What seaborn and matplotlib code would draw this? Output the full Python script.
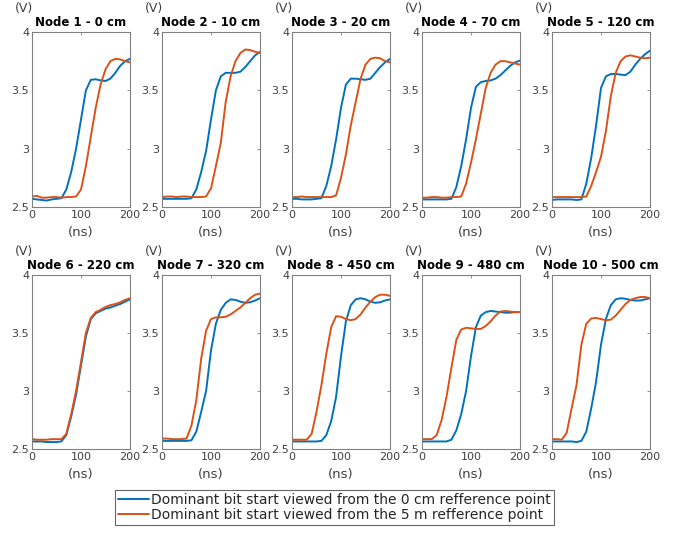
import numpy as np
import pandas as pd
import matplotlib
matplotlib.use("Agg")
import matplotlib.pyplot as plt
import seaborn as sns

# ---------------- data ----------------
time_ns = [0, 10, 20, 30, 40, 50, 60, 70, 80, 90, 100, 110, 120, 130, 140, 150, 160, 170, 180, 190, 200]

titles = ["Node 1 - 0 cm", "Node 2 - 10 cm", "Node 3 - 20 cm", "Node 4 - 70 cm", "Node 5 - 120 cm",
          "Node 6 - 220 cm", "Node 7 - 320 cm", "Node 8 - 450 cm", "Node 9 - 480 cm", "Node 10 - 500 cm"]

series_names = ["Dominant bit start viewed from the 0 cm refference point",
                "Dominant bit start viewed from the 5 m refference point"]

ref0_n1 = [2.57, 2.565, 2.56, 2.555, 2.565, 2.57, 2.575, 2.65, 2.8, 3.0, 3.25, 3.5, 3.59, 3.595, 3.585, 3.58, 3.6, 3.65, 3.71, 3.75, 3.77]
ref5_n1 = [2.59, 2.595, 2.58, 2.58, 2.585, 2.585, 2.58, 2.585, 2.585, 2.59, 2.65, 2.85, 3.1, 3.35, 3.55, 3.68, 3.75, 3.77, 3.765, 3.75, 3.74]

ref0_n2 = [2.57, 2.57, 2.57, 2.57, 2.57, 2.57, 2.575, 2.65, 2.8, 2.98, 3.25, 3.5, 3.62, 3.65, 3.65, 3.65, 3.66, 3.7, 3.75, 3.8, 3.83]
ref5_n2 = [2.585, 2.59, 2.59, 2.585, 2.59, 2.59, 2.585, 2.585, 2.585, 2.59, 2.66, 2.85, 3.05, 3.4, 3.62, 3.75, 3.82, 3.85, 3.845, 3.83, 3.82]

ref0_n3 = [2.57, 2.57, 2.565, 2.565, 2.565, 2.57, 2.575, 2.68, 2.85, 3.08, 3.35, 3.55, 3.6, 3.6, 3.595, 3.59, 3.6, 3.65, 3.7, 3.74, 3.77]
ref5_n3 = [2.585, 2.585, 2.59, 2.585, 2.585, 2.585, 2.585, 2.585, 2.585, 2.6, 2.75, 2.95, 3.2, 3.4, 3.6, 3.72, 3.77, 3.78, 3.775, 3.75, 3.74]

ref0_n4 = [2.565, 2.565, 2.565, 2.565, 2.565, 2.565, 2.57, 2.67, 2.85, 3.08, 3.35, 3.53, 3.57, 3.58, 3.585, 3.6, 3.63, 3.67, 3.71, 3.74, 3.755]
ref5_n4 = [2.58, 2.58, 2.585, 2.585, 2.58, 2.58, 2.585, 2.585, 2.59, 2.7, 2.88, 3.08, 3.3, 3.52, 3.65, 3.72, 3.75, 3.75, 3.74, 3.73, 3.72]

ref0_n5 = [2.56, 2.565, 2.565, 2.565, 2.565, 2.56, 2.565, 2.7, 2.92, 3.2, 3.52, 3.62, 3.64, 3.64, 3.635, 3.63, 3.66, 3.72, 3.77, 3.81, 3.84]
ref5_n5 = [2.585, 2.585, 2.585, 2.585, 2.585, 2.585, 2.585, 2.59, 2.68, 2.8, 2.93, 3.15, 3.45, 3.65, 3.75, 3.79, 3.8, 3.79, 3.78, 3.775, 3.78]

ref0_n6 = [2.565, 2.565, 2.565, 2.56, 2.56, 2.56, 2.565, 2.62, 2.78, 2.97, 3.22, 3.47, 3.62, 3.67, 3.69, 3.71, 3.72, 3.735, 3.75, 3.77, 3.79]
ref5_n6 = [2.585, 2.58, 2.58, 2.58, 2.585, 2.585, 2.585, 2.63, 2.8, 3.0, 3.25, 3.5, 3.63, 3.68, 3.7, 3.725, 3.74, 3.75, 3.765, 3.785, 3.8]

ref0_n7 = [2.57, 2.57, 2.57, 2.57, 2.57, 2.57, 2.575, 2.65, 2.82, 3.0, 3.35, 3.58, 3.7, 3.76, 3.79, 3.785, 3.77, 3.76, 3.765, 3.78, 3.8]
ref5_n7 = [2.59, 2.59, 2.585, 2.585, 2.585, 2.59, 2.7, 2.92, 3.28, 3.52, 3.62, 3.635, 3.635, 3.64, 3.66, 3.69, 3.72, 3.76, 3.8, 3.83, 3.84]

ref0_n8 = [2.565, 2.565, 2.565, 2.565, 2.565, 2.565, 2.57, 2.62, 2.74, 2.95, 3.3, 3.6, 3.74, 3.79, 3.8, 3.79, 3.77, 3.76, 3.765, 3.78, 3.79]
ref5_n8 = [2.58, 2.58, 2.58, 2.58, 2.63, 2.82, 3.05, 3.32, 3.55, 3.645, 3.64, 3.62, 3.61, 3.62, 3.66, 3.72, 3.77, 3.81, 3.83, 3.83, 3.82]

ref0_n9 = [2.565, 2.565, 2.565, 2.565, 2.565, 2.565, 2.58, 2.66, 2.8, 3.0, 3.3, 3.55, 3.65, 3.68, 3.69, 3.685, 3.68, 3.675, 3.675, 3.68, 3.68]
ref5_n9 = [2.585, 2.585, 2.585, 2.62, 2.75, 2.95, 3.2, 3.44, 3.53, 3.545, 3.54, 3.535, 3.535, 3.56, 3.6, 3.65, 3.685, 3.69, 3.685, 3.68, 3.68]

ref0_n10 = [2.565, 2.565, 2.565, 2.565, 2.565, 2.56, 2.57, 2.65, 2.85, 3.08, 3.4, 3.62, 3.74, 3.79, 3.8, 3.795, 3.785, 3.78, 3.78, 3.79, 3.8]
ref5_n10 = [2.585, 2.585, 2.58, 2.64, 2.85, 3.05, 3.4, 3.58, 3.625, 3.63, 3.62, 3.61, 3.615, 3.65, 3.7, 3.75, 3.785, 3.8, 3.81, 3.81, 3.8]

ref0_all = [ref0_n1, ref0_n2, ref0_n3, ref0_n4, ref0_n5, ref0_n6, ref0_n7, ref0_n8, ref0_n9, ref0_n10]
ref5_all = [ref5_n1, ref5_n2, ref5_n3, ref5_n4, ref5_n5, ref5_n6, ref5_n7, ref5_n8, ref5_n9, ref5_n10]

x_ticks = [0, 100, 200]
y_ticks = [2.5, 3, 3.5, 4]
y_ticklabels = ["2.5", "3", "3.5", "4"]

# ---------------- style ----------------
sns.set_style("white")
plt.rcParams['font.family'] = ['DejaVu Sans']

colors = {series_names[0]: "#0072BD", series_names[1]: "#D95319"}
axis_color = "#808080"
text_color = "#404040"

W, H = 684, 534
fig = plt.figure(figsize=(W / 100, H / 100), dpi=100)

col_left = [32, 162, 292, 422, 552]
ax_w = 98
rows = [(32, 207), (275, 449)]

for i in range(10):
    r, c = divmod(i, 5)
    top, bottom = rows[r]
    ax = fig.add_axes([col_left[c] / W, (H - bottom) / H, ax_w / W, (bottom - top) / H])
    df = pd.DataFrame({
        "t": time_ns * 2,
        "v": ref0_all[i] + ref5_all[i],
        "s": [series_names[0]] * len(time_ns) + [series_names[1]] * len(time_ns),
    })
    sns.lineplot(data=df, x="t", y="v", hue="s", palette=colors, ax=ax,
                 linewidth=1.4, legend=False)
    ax.set_xlim(0, 200)
    ax.set_ylim(2.5, 4)
    ax.set_xticks(x_ticks)
    ax.set_yticks(y_ticks)
    ax.set_yticklabels(y_ticklabels)
    ax.tick_params(direction="in", length=2.5, width=0.6, colors=axis_color,
                   labelcolor=text_color, labelsize=8, pad=2, top=True, right=True)
    for sp in ax.spines.values():
        sp.set_visible(True)
        sp.set_color(axis_color)
        sp.set_linewidth(0.8)
    ax.set_xlabel("")
    ax.set_ylabel("")
    ax.set_title(titles[i], fontsize=8.5, fontweight="bold", pad=4, color="black")
    ax.text(-0.17, 1.135, "(V)", transform=ax.transAxes, fontsize=9,
            color=text_color, ha="left", va="center")
    ax.text(0.5, -0.145, "(ns)", transform=ax.transAxes, fontsize=9.5,
            color=text_color, ha="center", va="center")

handles = [plt.Line2D([], [], color=colors[n], lw=1.4) for n in series_names]
leg = fig.legend(handles, series_names, loc="center",
                 bbox_to_anchor=(334.5 / W, (H - 507.5) / H),
                 fontsize=10, frameon=True, fancybox=False,
                 handlelength=2.2, handletextpad=0.2, borderpad=0.2,
                 labelspacing=0.05, borderaxespad=0)
leg.get_frame().set_edgecolor("#404040")
leg.get_frame().set_linewidth(0.8)
for t in leg.get_texts():
    t.set_color("#262626")

fig.savefig("out.png", dpi=100)
